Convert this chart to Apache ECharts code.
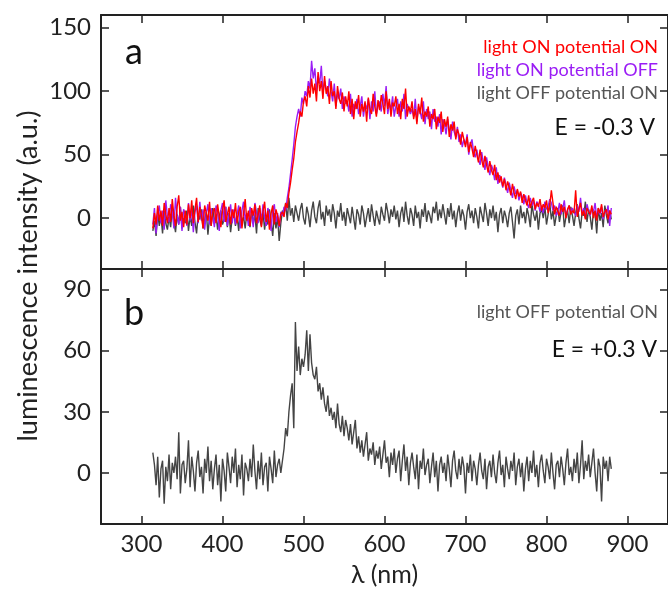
<!DOCTYPE html>
<html>
<head>
<meta charset="utf-8">
<script src="https://cdn.jsdelivr.net/npm/echarts@6.0.0/dist/echarts.min.js"></script>
<style>
  html, body { margin: 0; padding: 0; background: #fff; }
  #main { width: 668px; height: 593px; }
</style>
</head>
<body>
<div id="main"></div>
<script>
// wavelength grid (nm), 2 nm steps from 314 to 880
var lambdaStart = 314
var lambdaStep = 2

// tick values
var xTicks = [300, 400, 500, 600, 700, 800, 900]
var topTicks = [0, 50, 100, 150]
var bottomTicks = [0, 30, 60, 90]

// panel a: light ON potential ON
var lightOnPotOn = [
  -8, 4, -5, 10, -2, 6, -6, 12, 3, -4,
  8, -3, 15, 2, -6, 9, 18, -2, 5, -7,
  6, -5, 11, 0, 14, -4, 7, 16, -3, 9,
  2, -8, 10, 4, -2, 13, -6, 5, 8, -4,
  11, 1, -7, 6, 14, -3, 3, 9, -5, 7,
  0, 12, -4, 5, 9, -8, 4, 15, -2, 6,
  -6, 8, 2, 11, -4, 3, 10, -7, 5, 13,
  -3, 6, -9, 4, 10, -5, 7, 2, -6, 3,
  5, 1, 12, 8, 20, 28, 38, 47, 60, 68,
  75, 84, 80, 92, 96, 88, 104, 95, 110, 98,
  106, 92, 115, 100, 108, 94, 112, 98, 104, 90,
  108, 96, 100, 86, 104, 94, 90, 99, 84, 96,
  88, 100, 82, 94, 78, 92, 86, 97, 80, 90,
  84, 92, 76, 95, 86, 82, 98, 88, 80, 93,
  85, 97, 90, 82, 100, 86, 94, 80, 91, 88,
  96, 82, 90, 78, 94, 86, 102, 80, 88, 84,
  92, 78, 86, 74, 90, 82, 95, 76, 84, 80,
  88, 72, 82, 78, 86, 70, 80, 75, 84, 68,
  78, 72, 80, 64, 74, 69, 76, 62, 70, 66,
  58, 68, 62, 56, 64, 52, 60, 55, 48, 57,
  50, 44, 54, 46, 40, 49, 42, 36, 45, 38,
  34, 42, 30, 36, 28, 33, 25, 31, 22, 29,
  24, 18, 27, 20, 15, 23, 17, 21, 12, 19,
  14, 10, 18, 8, 13, 16, 7, 12, 9, 15,
  6, 11, 8, 14, 4, 10, 22, 12, 3, 9,
  8, 2, 11, 5, 9, 0, 7, 10, 3, 6,
  4, 22, 1, 7, 12, 2, 6, -1, 8, 5,
  3, 10, 0, 6, -2, 8, 4, 11, 1, 5,
  7, -1, 6, 3
]

// panel a: light ON potential OFF
var lightOnPotOff = [
  -5, 8, -12, 3, 10, -4, 6, -9, 14, 1,
  -3, 11, 5, -8, 16, 2, -5, 9, -10, 7,
  3, -6, 12, -2, 8, -11, 5, 10, -4, 13,
  -2, 7, -9, 4, 11, -5, 8, 1, -7, 10,
  4, -10, 6, 12, -3, 9, -6, 2, 11, -4,
  7, -5, 3, 10, -8, 6, 13, -1, 4, -6,
  9, 2, -7, 12, 5, -4, 8, -2, 11, 0,
  -6, 8, 3, -10, 6, 11, -3, 4, -7, 5,
  2, 9, 6, 16, 24, 35, 46, 58, 72, 80,
  86, 80, 95, 90, 100, 96, 108, 102, 124, 110,
  118, 100, 112, 106, 120, 98, 108, 102, 96, 110,
  100, 92, 106, 88, 98, 94, 102, 86, 96, 90,
  92, 84, 98, 80, 90, 86, 94, 82, 88, 96,
  80, 90, 86, 94, 78, 92, 84, 100, 82, 88,
  92, 84, 98, 88, 104, 82, 90, 86, 96, 80,
  88, 94, 80, 92, 84, 98, 78, 90, 86, 82,
  86, 80, 94, 76, 88, 84, 78, 92, 74, 86,
  78, 84, 70, 86, 76, 80, 72, 82, 66, 78,
  74, 66, 78, 70, 62, 76, 68, 64, 72, 60,
  66, 56, 62, 58, 66, 50, 58, 62, 52, 48,
  54, 46, 42, 52, 44, 38, 48, 40, 34, 42,
  38, 30, 40, 27, 34, 30, 24, 32, 26, 20,
  28, 22, 16, 25, 19, 22, 14, 20, 17, 11,
  18, 12, 8, 16, 10, 14, 6, 13, 11, 5,
  10, 4, 13, 7, 9, 15, 12, 6, 10, 2,
  5, 12, 3, 8, 14, 1, 6, 10, 4, 8,
  7, 2, 10, 5, 16, 3, 8, 0, 11, 6,
  2, 8, 5, 12, 0, 7, 3, 9, -1, 6,
  4, 10, -6, 8
]

// panel a: light OFF potential ON
var lightOffPotOnNeg = [
  -10, -2, -14, 4, -6, 2, -12, 6, -4, -9,
  1, -7, 8, -3, -11, 3, -5, 9, -8, 0,
  -4, 6, -10, 2, -6, 10, -3, -12, 4, -1,
  7, -8, -2, 5, -13, 1, -6, 8, -4, 3,
  -9, 2, 6, -5, -1, 9, -7, 4, -11, 0,
  5, -6, 2, -10, 7, -3, 1, -8, 4, -2,
  -7, 6, -4, 3, -12, 8, -1, -6, 5, -9,
  2, -5, 7, -3, -14, 4, -8, 1, -18, -4,
  6, 3, 12, -2, 16, 2, 8, -3, 10, 4,
  -2, 7, 12, 0, -5, 9, 3, -7, 6, 13,
  1, -4, 8, 14, -1, 5, -6, 10, 2, 7,
  -3, 11, 4, -8, 6, 1, 12, -2, 5, -6,
  8, 2, -4, 9, 0, -9, 7, 3, -5, 10,
  4, -7, 1, 8, -3, 11, 2, -6, 6, 0,
  -5, 9, 3, -2, 12, 5, -4, 7, 1, 10,
  -1, 6, -7, 4, 9, -3, 13, 2, -5, 8,
  3, -6, 10, 0, 5, -8, 7, 1, 12, -3,
  6, 2, -4, 9, 4, 13, -2, 7, 0, 11,
  3, -5, 8, 1, 12, -1, 6, -7, 4, 10,
  -2, 7, 2, -9, 5, 11, 0, 6, -4, 8,
  1, -8, 9, 3, -3, 12, 4, -6, 7, 0,
  10, -2, 5, -11, 3, 8, -4, 6, 1, -7,
  4, 9, -3, -16, 2, 7, -5, 10, 0, 5,
  -4, 8, 2, -7, 11, 3, -2, 6, -9, 4,
  7, 0, 9, -5, 3, 12, -1, 6, -6, 2,
  8, -3, 5, 10, -7, 1, 6, -4, 9, 2,
  -6, 4, 11, 0, -8, 5, 2, 13, -3, 7,
  1, -9, 6, 3, -12, 8, -2, 4, -7, 10,
  2, -4, 6, -1
]

// panel b: light OFF potential ON (E = +0.3 V)
var lightOffPotOnPos = [
  10, 4, -6, 8, -12, 2, 6, -15, 3, -4,
  9, -8, 5, 0, 8, -3, 20, -10, 4, 6,
  -5, 2, 16, -7, 8, 1, -9, 5, 11, -2,
  3, -10, 7, 0, 13, -4, 6, -8, 2, 9,
  -6, 4, -14, 7, 1, -9, 10, 3, -5, 8,
  0, 12, -7, 4, -3, 9, -11, 5, 2, -4,
  7, -2, 14, 1, -8, 6, -3, 10, -6, 3,
  5, -9, 8, 2, -5, 11, -2, 4, 7, 0,
  6, 12, 22, 18, 30, 38, 44, 22, 74, 50,
  62, 48, 56, 52, 58, 70, 50, 68, 54, 48,
  46, 52, 40, 44, 36, 42, 34, 30, 38, 28,
  32, 26, 30, 22, 34, 24, 20, 28, 18, 26,
  22, 16, 24, 14, 20, 26, 12, 18, 10, 16,
  8, 14, 20, 6, 12, 9, 15, 4, 11, 7,
  13, 2, 9, 16, 5, 8, -2, 10, 4, 12,
  0, 7, 11, -4, 6, 14, 1, 8, -6, 5,
  10, 3, -3, 9, -8, 6, 2, 12, -1, 4,
  7, -5, 3, 10, -2, 6, -9, 4, 8, 0,
  5, -4, 9, 2, -7, 6, 11, 1, -3, 7,
  -1, 8, 3, -10, 5, 0, 9, -4, 6, 2,
  -6, 4, 10, 1, -3, 7, -8, 3, 6, -2,
  9, 0, -5, 5, 11, -1, 4, -7, 8, 2,
  -3, 6, 1, 10, -6, 3, 7, -2, 5, -9,
  2, 8, -4, 6, 0, 11, -2, 4, -7, 5,
  9, 1, -5, 7, 3, -3, 10, 0, -8, 4,
  6, -2, 8, 2, -6, 5, 12, -1, 3, -4,
  7, 0, 10, -5, 4, 16, -3, 6, 1, 9,
  -2, 5, 12, 0, -9, 7, 3, -14, 8, 2,
  6, -4, 8, 2
]

var FONT = 'Lato, "DejaVu Sans", sans-serif'
var AXIS_COLOR = '#222'

function toPairs (values) {
    var res = []
    for (var i = 0; i < values.length; i++) {
        res.push([lambdaStart + i * lambdaStep, values[i]])
    }
    return res
}

// one frame axis: line + inside ticks, labels only where asked
function frameAxis (gridIndex, position, min, max, ticks, showLabel) {
    return {
        type: 'value',
        gridIndex: gridIndex,
        position: position,
        min: min,
        max: max,
        axisLine: { show: true, onZero: false, lineStyle: { color: AXIS_COLOR, width: 2 } },
        axisTick: { show: true, inside: true, length: 8, customValues: ticks, lineStyle: { color: AXIS_COLOR, width: 1.5 } },
        axisLabel: {
            show: showLabel,
            customValues: ticks,
            margin: 10,
            color: AXIS_COLOR,
            fontFamily: FONT,
            fontSize: 24
        },
        splitLine: { show: false }
    }
}

function lineSeries (name, values, color, xIdx, yIdx) {
    return {
        name: name,
        type: 'line',
        xAxisIndex: xIdx,
        yAxisIndex: yIdx,
        data: toPairs(values),
        showSymbol: false,
        symbol: 'none',
        lineStyle: { color: color, width: 1.4 },
        animation: false
    }
}

var chart = echarts.init(document.getElementById('main'))

var bottomX = frameAxis(1, 'bottom', 250, 950, xTicks, true)
bottomX.axisLabel.margin = 8
bottomX.name = 'λ (nm)'
bottomX.nameLocation = 'middle'
bottomX.nameGap = 38
bottomX.nameTextStyle = { fontFamily: FONT, fontSize: 25, color: AXIS_COLOR }

var option = {
    backgroundColor: '#fff',
    animation: false,
    grid: [
        { left: 101, top: 15, width: 574, height: 254 },
        { left: 101, top: 269, width: 574, height: 255 }
    ],
    xAxis: [
        frameAxis(0, 'bottom', 250, 950, xTicks, false),
        frameAxis(0, 'top', 250, 950, xTicks, false),
        bottomX,
        frameAxis(1, 'top', 250, 950, xTicks, false)
    ],
    yAxis: [
        frameAxis(0, 'left', -40, 160, topTicks, true),
        frameAxis(0, 'right', -40, 160, topTicks, false),
        frameAxis(1, 'left', -25, 100, bottomTicks, true),
        frameAxis(1, 'right', -25, 100, bottomTicks, false)
    ],
    series: [
        lineSeries('light OFF potential ON', lightOffPotOnNeg, '#444444', 0, 0),
        lineSeries('light ON potential OFF', lightOnPotOff, '#9a1cf5', 0, 0),
        lineSeries('light ON potential ON', lightOnPotOn, '#ff0000', 0, 0),
        lineSeries('light OFF potential ON (+0.3 V)', lightOffPotOnPos, '#444444', 2, 2)
    ],
    graphic: [
        {
            type: 'text', x: 28, y: 276, rotation: Math.PI / 2,
            style: { text: 'luminescence intensity (a.u.)', font: '27px ' + FONT, fill: '#222', align: 'center', verticalAlign: 'middle' }
        },
        { type: 'text', x: 134, y: 52, style: { text: 'a', font: '36px ' + FONT, fill: '#111', align: 'center', verticalAlign: 'middle' } },
        { type: 'text', x: 134, y: 313, style: { text: 'b', font: '36px ' + FONT, fill: '#111', align: 'center', verticalAlign: 'middle' } },
        { type: 'text', x: 658, y: 47, style: { text: 'light ON potential ON', font: '18px ' + FONT, fill: '#ff0000', align: 'right', verticalAlign: 'middle' } },
        { type: 'text', x: 658, y: 70, style: { text: 'light ON potential OFF', font: '18px ' + FONT, fill: '#9a1cf5', align: 'right', verticalAlign: 'middle' } },
        { type: 'text', x: 658, y: 93, style: { text: 'light OFF potential ON', font: '18px ' + FONT, fill: '#555', align: 'right', verticalAlign: 'middle' } },
        { type: 'text', x: 655, y: 128, style: { text: 'E = -0.3 V', font: '23px ' + FONT, fill: '#111', align: 'right', verticalAlign: 'middle' } },
        { type: 'text', x: 658, y: 312, style: { text: 'light OFF potential ON', font: '18px ' + FONT, fill: '#555', align: 'right', verticalAlign: 'middle' } },
        { type: 'text', x: 657, y: 350, style: { text: 'E = +0.3 V', font: '23px ' + FONT, fill: '#111', align: 'right', verticalAlign: 'middle' } }
    ]
}

chart.setOption(option)
</script>
</body>
</html>
